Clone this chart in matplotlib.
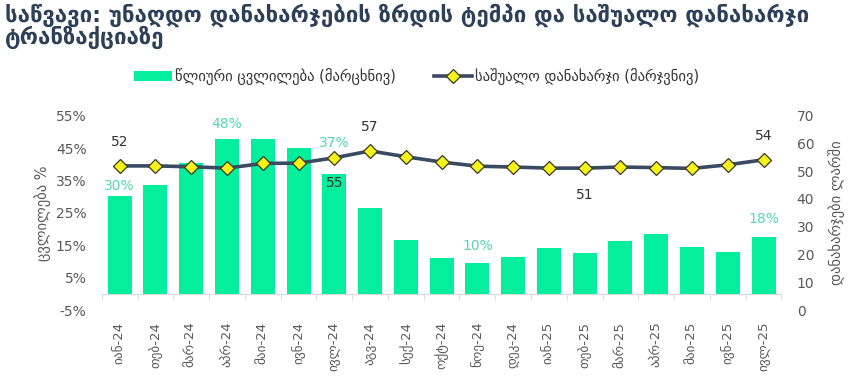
import matplotlib
matplotlib.use("Agg")
import matplotlib.pyplot as plt
from matplotlib.ticker import FixedLocator

plt.rcParams["font.family"] = ["DejaVu Sans"]

TITLE = ("საწვავი: უნაღდო დანახარჯების ზრდის ტემპი და საშუალო დანახარჯი\n"
         "ტრანზაქციაზე")
months = ["იან-24", "თებ-24", "მარ-24", "აპრ-24", "მაი-24", "ივნ-24", "ივლ-24",
          "აგვ-24", "სექ-24", "ოქტ-24", "ნოე-24", "დეკ-24", "იან-25", "თებ-25",
          "მარ-25", "აპრ-25", "მაი-25", "ივნ-25", "ივლ-25"]
yoy_change = [30.2, 33.5, 40.3, 47.8, 47.7, 45.0, 37.0, 26.6, 16.7, 11.1,
              9.6, 11.5, 14.2, 12.7, 16.3, 18.4, 14.6, 12.9, 17.6]
avg_spend = [51.9, 51.9, 51.6, 51.1, 52.8, 52.9, 54.8, 57.3, 55.2, 53.3,
             51.8, 51.5, 51.1, 51.1, 51.5, 51.3, 51.0, 52.3, 54.1]

# labelled points: index -> text shown
bar_labels = {0: "30%", 3: "48%", 6: "37%", 10: "10%", 18: "18%"}
line_labels = {0: "52", 6: "55", 7: "57", 13: "51", 18: "54"}

BAR = "#03ef9d"
BAR_TXT = "#55d8ad"
LINE = "#3b4a63"
GREY = "#595959"

fig = plt.figure(figsize=(8.57, 3.92), dpi=100)
ax = fig.add_axes([0.1188, 0.209, 0.793, 0.496])
ax2 = ax.twinx()

x = list(range(len(months)))
ax.bar(x, yoy_change, width=0.67, color=BAR, zorder=2,
       label="წლიური ცვლილება (მარცხნივ)")
ax2.plot(x, avg_spend, color=LINE, lw=2.6, marker="D", ms=7.5,
         mfc="#f7f21c", mec="#3a3a1a", mew=0.9, zorder=3,
         label="საშუალო დანახარჯი (მარჯვნივ)")

bar_off = {0: 7, 3: 11, 6: 22, 10: 12, 18: 13}
for i, txt in bar_labels.items():
    ax.annotate(txt, (x[i], yoy_change[i]), xytext=(0, bar_off[i]),
                textcoords="offset points", ha="center", va="center",
                fontsize=10, color=BAR_TXT)
line_off = {0: 17, 6: -18, 7: 17, 13: -19, 18: 17}
for i, txt in line_labels.items():
    ax2.annotate(txt, (x[i], avg_spend[i]), xytext=(0, line_off[i]),
                 textcoords="offset points", ha="center", va="center",
                 fontsize=10, color="#333333")

ax.set_xlim(-0.5, len(months) - 0.5)
ax.set_ylim(-5, 55)
ax.set_yticks(range(-5, 56, 10))
ax.set_yticklabels([f"{v}%" for v in range(-5, 56, 10)])
ax2.set_ylim(0, 70)
ax2.set_yticks(range(0, 71, 10))

for a in (ax, ax2):
    for s in a.spines.values():
        s.set_visible(False)
ax.spines["bottom"].set_visible(True)
ax.spines["bottom"].set_position(("data", 0))
ax.spines["bottom"].set_color("#d9d9d9")

ax.set_xticks(x)
ax.set_xticklabels(months, rotation=90, va="top", ha="center")
ax.xaxis.set_minor_locator(FixedLocator([i - 0.5 for i in range(len(months) + 1)]))
ax.tick_params(axis="x", which="major", length=0, pad=20, labelsize=9.5,
               labelcolor=GREY)
ax.tick_params(axis="x", which="minor", length=4, color="#d9d9d9")
ax.tick_params(axis="y", length=0, pad=11, labelsize=10, labelcolor=GREY)
ax2.tick_params(axis="y", length=0, pad=11, labelsize=10, labelcolor=GREY)

fig.text(0.05, 0.457, "ცვლილება %", rotation=90, ha="center", va="center",
         fontsize=10.5, color=GREY)
fig.text(0.976, 0.457, "დანახარჯები ლარში", rotation=90, ha="center",
         va="center", fontsize=10.5, color=GREY)

fig.text(0.006, 0.99, TITLE, ha="left", va="top", fontsize=16,
         fontweight="bold", color="#2e4057", linespacing=0.9)

h1, l1 = ax.get_legend_handles_labels()
h2, l2 = ax2.get_legend_handles_labels()
fig.legend(h1 + h2, l1 + l2, loc="center", bbox_to_anchor=(0.486, 0.805),
           ncol=2, frameon=False, fontsize=10.5, labelcolor="#333333",
           handlelength=2.6, handletextpad=0.2, columnspacing=2.6)

fig.savefig("out.png", dpi=100)
